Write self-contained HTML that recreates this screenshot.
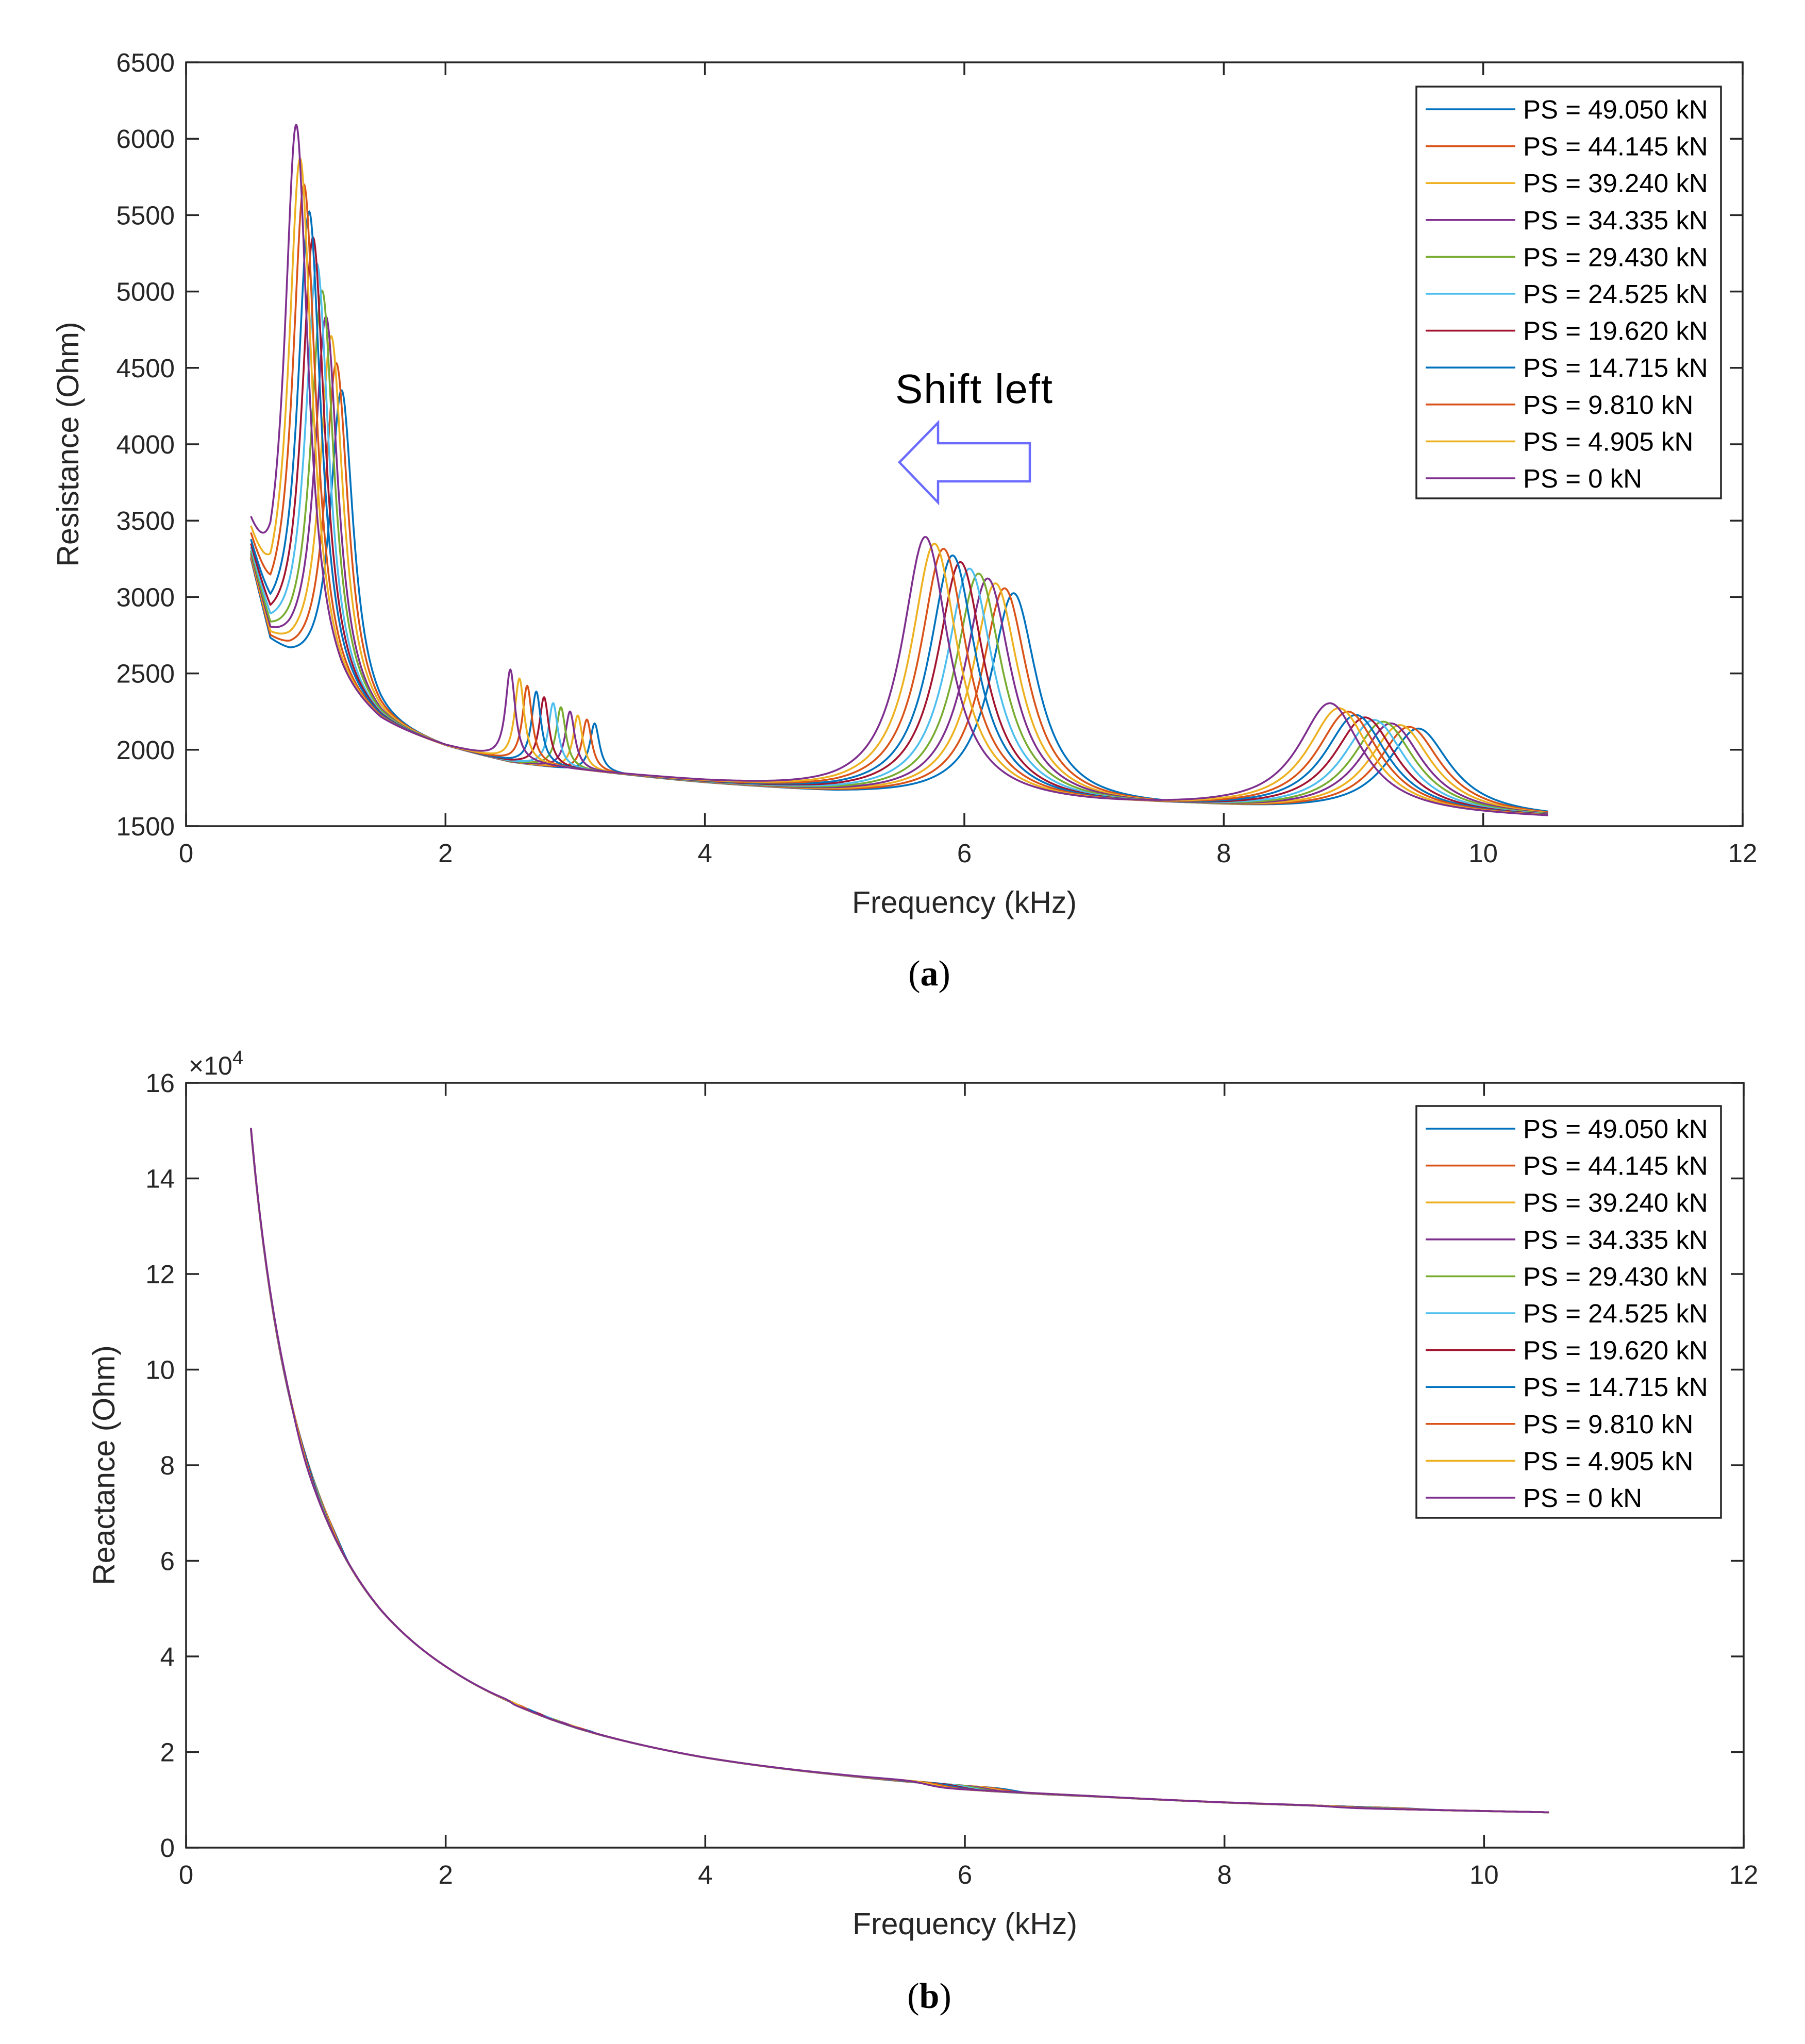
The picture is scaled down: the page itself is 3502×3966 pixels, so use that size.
<!DOCTYPE html>
<html><head><meta charset="utf-8"><style>
html,body{margin:0;padding:0;background:#fff;}
svg{display:block;}
text{font-family:"Liberation Sans",Arial,sans-serif;fill:#262626;}
</style></head><body>
<svg id="fig" width="3502" height="3966" viewBox="0 0 3502 3966" xmlns="http://www.w3.org/2000/svg">
<rect width="3502" height="3966" fill="#fff"/>
<g id="chartA"></g>
<g id="chartB"></g>
<text x="1737" y="782" font-size="80" textLength="305" style="fill:#000">Shift left</text>
<polygon points="1745,897 1820,820 1820,860 1998,860 1998,934 1820,934 1820,975" fill="none" stroke="#6b6bff" stroke-width="4.5"/>
<text x="1803" y="1912" font-size="70" text-anchor="middle" style="font-family:'Liberation Serif',serif;fill:#000">(<tspan font-weight="bold">a</tspan>)</text>
<text x="1803" y="3896" font-size="70" text-anchor="middle" style="font-family:'Liberation Serif',serif;fill:#000">(<tspan font-weight="bold">b</tspan>)</text>
</svg>
<script>
// ---- data ----
const seriesLabels = ["PS = 49.050 kN","PS = 44.145 kN","PS = 39.240 kN","PS = 34.335 kN","PS = 29.430 kN","PS = 24.525 kN","PS = 19.620 kN","PS = 14.715 kN","PS = 9.810 kN","PS = 4.905 kN","PS = 0 kN"];
const seriesColors = ["#0072BD","#D95319","#EDB120","#7E2F8E","#77AC30","#4DBEEE","#A2142F","#0072BD","#D95319","#EDB120","#7E2F8E"];
const peak1Freq = [1.20,1.16,1.12,1.08,1.05,1.01,0.98,0.95,0.91,0.88,0.85];
const peak1Amp  = [2100,2250,2400,2500,2650,2800,2950,3100,3250,3400,3600];
const peak2Freq = [3.15,3.09,3.02,2.96,2.89,2.83,2.76,2.70,2.63,2.57,2.50];
const peak2Amp  = [320,340,360,380,400,420,450,480,510,550,600];
const peak3Freq = [6.38,6.31,6.24,6.18,6.11,6.04,5.97,5.91,5.84,5.77,5.70];
const peak3Amp  = [1380,1410,1440,1470,1500,1530,1570,1610,1650,1680,1720];
const peak4Freq = [9.50,9.43,9.36,9.29,9.23,9.16,9.09,9.02,8.96,8.89,8.82];
const peak4Amp  = [570,580,590,600,610,620,635,650,670,690,720];
const peakWidths = [0.11,0.045,0.22,0.3];
const baseF = [0.5,0.65,0.8,0.95,1.2,1.5,2.0,2.5,3.0,4.0,5.0,6.0,7.0,8.0,9.0,10.5];
const baseR = [3200,2650,2520,2420,2250,2110,1990,1900,1850,1770,1700,1650,1620,1600,1570,1545];
const xF = [0.5,0.6,0.7,0.85,1.0,1.2,1.5,2.0,2.5,3.0,4.0,5.0,6.0,7.0,8.0,9.0,10.0,10.5];
const xV = [150000,125000,107000,88000,75000,62500,50000,38000,30500,25200,18800,15200,12600,10900,9500,8500,7800,7500];
const xTicksA = [0,2,4,6,8,10,12];
const yTicksA = [1500,2000,2500,3000,3500,4000,4500,5000,5500,6000,6500];
const yTicksB = [0,2,4,6,8,10,12,14,16];

const NS="http://www.w3.org/2000/svg";
function mk(tag,attrs,parent){const e=document.createElementNS(NS,tag);for(const k in attrs)e.setAttribute(k,attrs[k]);parent.appendChild(e);return e;}
function interp(xs,ys,x){if(x<=xs[0])return ys[0];for(let i=1;i<xs.length;i++){if(x<=xs[i]){const t=(x-xs[i-1])/(xs[i]-xs[i-1]);return ys[i-1]+t*(ys[i]-ys[i-1]);}}return ys[ys.length-1];}
function interpLog(xs,ys,x){if(x<=xs[0])return ys[0];for(let i=1;i<xs.length;i++){if(x<=xs[i]){const t=(Math.log(x)-Math.log(xs[i-1]))/(Math.log(xs[i])-Math.log(xs[i-1]));return Math.exp(Math.log(ys[i-1])+t*(Math.log(ys[i])-Math.log(ys[i-1])));}}return ys[ys.length-1];}
function lor(f,f0,A,w){const u=(f-f0)/w;return A/(1+u*u);}
function disp(f,f0,A,w){const u=(f-f0)/w;return -A*u/(1+u*u);}
function resist(s,f){return interp(baseF,baseR,f)+lor(f,peak1Freq[s],peak1Amp[s],peakWidths[0])+lor(f,peak2Freq[s],peak2Amp[s],peakWidths[1])+lor(f,peak3Freq[s],peak3Amp[s],peakWidths[2])+lor(f,peak4Freq[s],peak4Amp[s],peakWidths[3]);}
function react(s,f){return interpLog(xF,xV,f)+disp(f,peak3Freq[s],peak3Amp[s]*0.5,peakWidths[2])+disp(f,peak4Freq[s],peak4Amp[s]*0.4,peakWidths[3])+disp(f,peak1Freq[s],peak1Amp[s]*0.5,peakWidths[0])+disp(f,peak2Freq[s],peak2Amp[s]*0.6,peakWidths[1]);}

function drawChart(g,box,xmax,ymin,ymax,yTicks,yTickScale,ylabel,ylabelX,fn,legendTop,prefix){
  const X=v=>box.l+(v/xmax)*(box.r-box.l);
  const Y=v=>box.b-(v-ymin)/(ymax-ymin)*(box.b-box.t);
  const cg=mk('g',{},g);
  
  
  for(let s=0;s<seriesLabels.length;s++){
    let pts=[];
    for(let f=0.5;f<=10.5001;f+=0.005){pts.push(X(f).toFixed(1)+','+Y(fn(s,f)).toFixed(1));}
    const pl=mk('polyline',{points:pts.join(' '),fill:'none',stroke:seriesColors[s],'stroke-width':3.6,'stroke-linejoin':'round'},cg);
    
    
  }
  const fr=mk('rect',{x:box.l,y:box.t,width:box.r-box.l,height:box.b-box.t,fill:'none',stroke:'#262626','stroke-width':3.5},g);
  
  
  const TL=25;
  for(const t of xTicksA){
    const x=X(t);
    mk('line',{x1:x,y1:box.b,x2:x,y2:box.b-TL,stroke:'#262626','stroke-width':3.5},g);
    mk('line',{x1:x,y1:box.t,x2:x,y2:box.t+TL,stroke:'#262626','stroke-width':3.5},g);
    const tx=mk('text',{x:x,y:box.b+70,'font-size':51,'text-anchor':'middle'},g);
    tx.textContent=t;
    
    
  }
  for(const t of yTicks){
    const y=Y(t*yTickScale);
    mk('line',{x1:box.l,y1:y,x2:box.l+TL,y2:y,stroke:'#262626','stroke-width':3.5},g);
    mk('line',{x1:box.r,y1:y,x2:box.r-TL,y2:y,stroke:'#262626','stroke-width':3.5},g);
    const tx=mk('text',{x:box.l-22,y:y+18,'font-size':51,'text-anchor':'end'},g);
    tx.textContent=t;
    
    
  }
  const xl=mk('text',{x:(box.l+box.r)/2,y:box.b+168,'font-size':59,'text-anchor':'middle'},g);
  xl.textContent='Frequency (kHz)';
  
  
  const yl=mk('text',{x:0,y:0,'font-size':59,'text-anchor':'middle',transform:'translate('+ylabelX+','+((box.t+box.b)/2)+') rotate(-90)'},g);
  yl.textContent=ylabel;
  
  
  const lg=mk('g',{},g);
  
  
  mk('rect',{x:2748,y:legendTop,width:591,height:799,fill:'#fff',stroke:'#262626','stroke-width':3.5},lg);
  for(let s=0;s<seriesLabels.length;s++){
    const y=legendTop+44+s*71.6;
    const en=mk('g',{},lg);
    
    
    mk('line',{x1:2766,y1:y,x2:2940,y2:y,stroke:seriesColors[s],'stroke-width':3.6},en);
    const tt=mk('text',{x:2955,y:y+18,'font-size':51,style:'fill:#000'},en);
    tt.textContent=seriesLabels[s];
  }
}
const boxA={l:361,r:3381,t:121,b:1603};
const boxB={l:361,r:3383,t:2101,b:3585};
drawChart(document.getElementById('chartA'),boxA,12,1500,6500,yTicksA,1,'Resistance (Ohm)',152,resist,168,'a');
drawChart(document.getElementById('chartB'),boxB,12,0,160000,yTicksB,10000,'Reactance (Ohm)',222,react,2146,'b');
const ex=document.createElementNS(NS,'text');
ex.setAttribute('x',366);ex.setAttribute('y',2085);ex.setAttribute('font-size',50);


ex.innerHTML='×10<tspan dy="-20" font-size="38">4</tspan>';
document.getElementById('chartB').appendChild(ex);
</script>
</body></html>
